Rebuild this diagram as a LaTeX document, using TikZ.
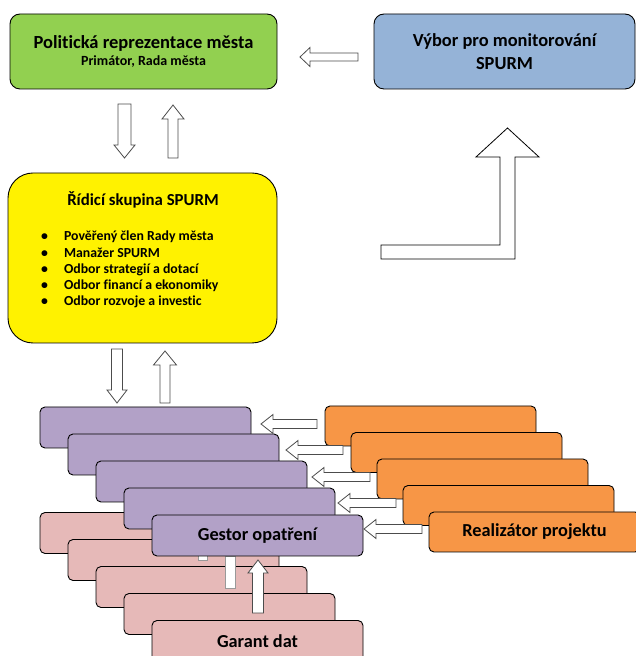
\documentclass[tikz,border=0pt]{standalone}
\usepackage{fontspec}
\setmainfont{Carlito}[Ligatures=NoCommon]
\usetikzlibrary{positioning}

\definecolor{polgreen}{HTML}{92D050}
\definecolor{vyborblue}{HTML}{95B3D7}
\definecolor{gestorviolet}{HTML}{B2A1C7}
\definecolor{realorange}{HTML}{F79646}
\definecolor{garantpink}{HTML}{E6B9B8}

\tikzstyle{bigbox} = [draw, rounded corners=10pt, line width=0.9pt, align=center]
\tikzstyle{layer} = [draw, rounded corners=5pt, line width=0.9pt,
	minimum width=211pt, minimum height=41pt, font=\bfseries\fontsize{18.3}{20}\selectfont]
\tikzstyle{gestor} = [layer, fill=gestorviolet]
\tikzstyle{garant} = [layer, fill=garantpink]
\tikzstyle{realiz} = [layer, fill=realorange, minimum height=40pt]
\tikzstyle{arrowline} = [draw=black!70, fill=white, line width=0.8pt]
% hollow block arrow: length/shaft half width/head half width/head length
\tikzset{pics/harrow/.style args={#1/#2/#3/#4}{code={
	\draw[arrowline] (0,-#2) -- (#1-#4,-#2) -- (#1-#4,-#3) -- (#1,0) -- (#1-#4,#3) -- (#1-#4,#2) -- (0,#2) -- cycle;}}}

\begin{document}
\begin{tikzpicture}[x=1pt, y=1pt]
	\useasboundingbox (0,0) rectangle (636,656);

	\node [bigbox, fill=polgreen, minimum width=267pt, minimum height=75pt,
		font=\bfseries\fontsize{18.5}{20}\selectfont] (pol) at (143.5,604.5)
		{Politická reprezentace města\\[-3pt]{\fontsize{14}{15}\selectfont Primátor, Rada města}};
	\node [bigbox, fill=vyborblue, minimum width=261pt, minimum height=75pt,
		font=\bfseries\fontsize{18.4}{23}\selectfont] (vybor) at (504.5,604.5)
		{Výbor pro monitorování\\SPURM};
	\node [bigbox, fill=yellow, rounded corners=25pt, minimum width=269pt, minimum height=170pt] (ridici) at (142.5,398) {};
	\node [font=\bfseries\fontsize{16.8}{20}\selectfont] (ridtitle) at (143,456) {Řídicí skupina SPURM};
	\node [anchor=west, inner sep=0pt, font=\bfseries\fontsize{13.8}{16.2}\selectfont] (ridlist) at (41,386)
		{\begin{tabular}{@{}l@{\hspace{16pt}}l@{}}
			\textbullet & Pověřený člen Rady města\\
			\textbullet & Manažer SPURM\\
			\textbullet & Odbor strategií a dotací\\
			\textbullet & Odbor financí a ekonomiky\\
			\textbullet & Odbor rozvoje a investic
		\end{tabular}};

	% garant dat stack (back part)
	\node [garant] (d1) at (145.5,123) {};
	\node [garant] (d2) at ([shift={(28,-27)}]d1) {};
	\node [garant] (d3) at ([shift={(28,-27)}]d2) {};
	\node [garant] (d4) at ([shift={(28,-27)}]d3) {};
	\draw [draw=black!40, fill=white, line width=0.6pt] (225,68) rectangle (235,100);
	\draw [draw=black!40, fill=white, line width=0.6pt] (198,96) rectangle (207,101);

	% gestor stack
	\node [gestor] (g1) at (145.5,228.5) {};
	\node [gestor] (g2) at ([shift={(28,-27)}]g1) {};
	\node [gestor] (g3) at ([shift={(28,-27)}]g2) {};
	\node [gestor] (g4) at ([shift={(28,-27)}]g3) {};
	\node [gestor] (g5) at ([shift={(28,-27)}]g4) {Gestor opatření};

	% realizator stack
	\node [realiz] (r1) at (430.5,230) {};
	\node [realiz] (r2) at ([shift={(26,-26.5)}]r1) {};
	\node [realiz] (r3) at ([shift={(26,-26.5)}]r2) {};
	\node [realiz] (r4) at ([shift={(26,-26.5)}]r3) {};
	\node [realiz] (r5) at ([shift={(26,-26.5)}]r4) {Realizátor projektu};

	\node [garant] (d5) at ([shift={(28,-27)}]d4) {Garant dat};

	% block arrows
	\pic [rotate=180] (a1) at (358,599) {harrow=58/4/9.5/10};
	\pic [rotate=-90] (a2) at (124.5,552) {harrow=54/6.5/10.5/13};
	\pic [rotate=90] (a3) at (173,498) {harrow=53/5/11/14};
	\pic [rotate=-90] (a4) at (117,307) {harrow=54/5.5/10/13};
	\pic [rotate=90] (a5) at (165,253) {harrow=52/5/11.5/14};
	\pic [rotate=180] (a6) at (317,232) {harrow=56/4.5/9.5/12};
	\pic [rotate=180] (a7) at (343,206) {harrow=57/4.5/9.5/12};
	\pic [rotate=180] (a8) at (370,179) {harrow=58/4.5/9.5/12};
	\pic [rotate=180] (a9) at (396,153) {harrow=58/4.5/9.5/12};
	\pic [rotate=180] (a10) at (422,127) {harrow=58/4.5/9.5/12};
	\pic [rotate=90] (a11) at (258,43) {harrow=53/5.5/10/13};

	% bent arrow up to the committee
	\draw [draw=black, fill=white, line width=0.8pt] (381,411) -- (500,411) -- (500,499) -- (476,499)
		-- (507.5,528) -- (539,499) -- (515,499) -- (515,397) -- (381,397) -- cycle;

\end{tikzpicture}
\end{document}
